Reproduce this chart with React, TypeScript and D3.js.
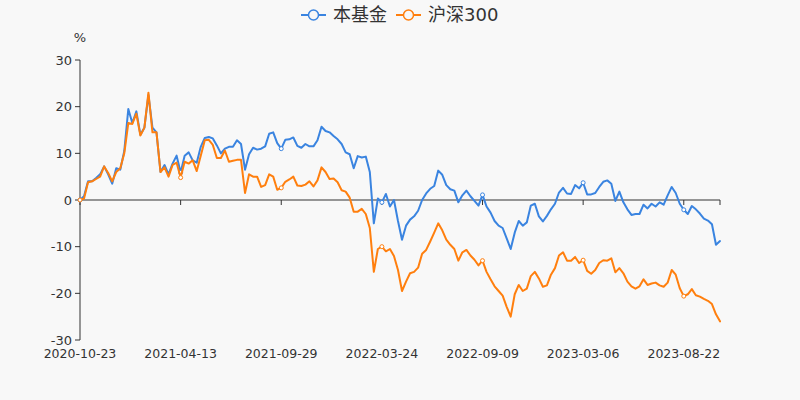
import React from 'react';
import * as d3 from 'd3';

const tickLabels = ['2020-10-23', '2021-04-13', '2021-09-29', '2022-03-24', '2022-09-09', '2023-03-06', '2023-08-22'];
const labelStep = 25;
const yTicks = [-30, -20, -10, 0, 10, 20, 30];
const seriesNames = ['本基金', '沪深300'];
const seriesColors = ['#3a84e0', '#ff7f0e'];

const fundValues = [
  0, 0.8, 4, 4, 4.7, 5.5, 7.2, 5.5, 3.5, 6.8,
  6.5, 10.5, 19.5, 16.5, 19, 14, 15.5, 22.5, 15.5, 14.5,
  6, 7.5, 5.5, 7.8, 9.5, 5.9, 9.5, 10.2, 8.5, 8,
  11.4, 13.3, 13.5, 13.2, 11.7, 10, 11, 11.4, 11.4, 12.8,
  12, 6.5, 9.8, 11.2, 10.8, 11, 11.5, 14.2, 14.5, 12.2,
  11, 12.9, 13, 13.4, 11.6, 11.2, 12, 11.5, 11.5, 12.8,
  15.7, 14.8, 14.5, 13.7, 13, 12, 10.2, 9.8, 6.8, 9.4,
  9.1, 9.3, 6, -5, 0.3, -0.5, 1.3, -1.4, 0, -4.5,
  -8.5, -5.5, -4.2, -3.5, -2.3, 0, 1.4, 2.4, 3, 6.3,
  5.4, 3.2, 2.3, 2, -0.5, 1, 2, 0.8, -0.2, -1.2,
  1.1, -1.4, -2.7, -4.5, -5.5, -6, -8.2, -10.5, -7, -4.5,
  -5.5, -4.8, -1.2, -0.8, -3.5, -4.6, -3.4, -2, -0.8, 1.6,
  2.6, 1.4, 1.3, 3.2, 2.5, 3.7, 1.2, 1.2, 1.5, 2.8,
  3.9, 4.2, 3.5, -0.2, 1.8, -0.5, -2, -3.2, -3, -3,
  -1, -1.8, -0.8, -1.4, -0.5, -1, 1, 2.8, 1.5, -0.8,
  -2.1, -3, -1.3, -2, -2.9, -4, -4.4, -5.2, -9.6, -8.8,
];

const hs300Values = [
  0, 0.3, 3.8, 4, 4.5, 5, 7.2, 5.8, 4, 6,
  6.8, 10, 16.5, 16.3, 18.5, 13.8, 15.5, 23, 14.5, 14.5,
  6, 7, 5, 7.5, 8, 4.8, 8.2, 7.8, 8.5, 6.2,
  9.5, 12.8, 12.9, 11.8, 9, 9, 10.6, 8.2, 8.4, 8.6,
  8.6, 1.5, 5.5, 5, 5, 2.8, 3.2, 5.5, 5, 2.2,
  2.6, 3.9, 4.4, 5, 3.1, 3, 3.3, 4, 2.9, 4.2,
  7, 6, 4.5, 4.6, 3.8, 2.1, 1.8, 0.5, -2.5, -2.5,
  -1.9, -3, -6, -15.4, -10.5, -10, -11, -10.5, -12, -15,
  -19.5, -17.5, -15.7, -15.4, -14.5, -11.5, -10.7, -8.9, -7, -5,
  -6.5, -8.5, -9.6, -10.5, -13, -11.2, -10.7, -11.9, -12.8, -14,
  -13, -15.4, -17, -18.5, -19.5, -20.5, -22.9, -25, -20.2, -18.2,
  -19.5, -19, -16.3, -15.4, -16.8, -18.6, -18.3, -16, -14.6, -11.9,
  -11.2, -13, -13, -12.2, -13.5, -12.9, -15.2, -15.8, -15, -13.5,
  -12.9, -13, -12.5, -15.5, -14.6, -15.7, -17.5, -18.5, -19, -18.5,
  -17, -18.2, -17.9, -17.7, -18.3, -18.6, -17.7, -15, -16, -18.9,
  -20.6, -20.2, -19.1, -20.4, -20.7, -21.2, -21.6, -22.3, -24.5, -26,
];

const W = 800;
const H = 400;
const M = { left: 80, right: 80, top: 60, bottom: 60 };
const FONT = '"DejaVu Sans", "Noto Sans CJK SC", sans-serif';
const BG = '#f8f8f8';

export default function App() {
  const series = [fundValues, hs300Values];
  const n = fundValues.length;
  const x = d3.scaleLinear().domain([0, n - 1]).range([M.left, W - M.right]);
  const y = d3.scaleLinear().domain([-30, 30]).range([H - M.bottom, M.top]);
  const line = d3
    .line<number>()
    .x((_, i) => x(i))
    .y((d) => y(d));

  const labelIdx = tickLabels.map((_, k) => k * labelStep);
  const tickIdx = [...labelIdx, n - 1];

  const legendY = 15;
  const legendItems = [
    { name: seriesNames[0], color: seriesColors[0], x0: 301, tx: 333 },
    { name: seriesNames[1], color: seriesColors[1], x0: 396, tx: 428 },
  ];

  return (
    <div style={{ position: 'fixed', left: 0, top: 0, width: W, height: H }}>
      <svg width={W} height={H} style={{ display: 'block', background: BG }} fontFamily={FONT}>
        <rect x={0} y={0} width={W} height={H} fill={BG} />
        {legendItems.map((it) => (
          <g key={it.name}>
            <line x1={it.x0} x2={it.x0 + 25} y1={legendY} y2={legendY} stroke={it.color} strokeWidth={2} />
            <circle cx={it.x0 + 12.5} cy={legendY} r={5} fill={BG} stroke={it.color} strokeWidth={1.5} />
            <text x={it.tx} y={legendY} dy="0.35em" fontSize={18} fill="#333">
              {it.name}
            </text>
          </g>
        ))}
        <text x={M.left} y={37} dy="0.35em" textAnchor="middle" fontSize={13} fill="#333">
          %
        </text>
        <line x1={M.left} x2={M.left} y1={y(30)} y2={y(-30)} stroke="#333" strokeWidth={1} />
        {yTicks.map((t) => (
          <g key={t}>
            <line x1={M.left - 5} x2={M.left} y1={y(t)} y2={y(t)} stroke="#333" strokeWidth={1} />
            <text x={M.left - 8} y={y(t)} dy="0.35em" textAnchor="end" fontSize={13} fill="#333">
              {t}
            </text>
          </g>
        ))}
        <line x1={M.left} x2={W - M.right} y1={y(0)} y2={y(0)} stroke="#333" strokeWidth={1} />
        {tickIdx.map((i) => (
          <line key={i} x1={x(i)} x2={x(i)} y1={y(0)} y2={y(0) + 5} stroke="#333" strokeWidth={1} />
        ))}
        {tickLabels.map((lab, k) => (
          <text key={lab} x={x(labelIdx[k])} y={354} dy="0.35em" textAnchor="middle" fontSize={12.5} fill="#333">
            {lab}
          </text>
        ))}
        {series.map((vals, s) => (
          <g key={s}>
            <path
              d={line(vals) || ''}
              fill="none"
              stroke={seriesColors[s]}
              strokeWidth={2}
              strokeLinejoin="round"
              strokeLinecap="round"
            />
            {labelIdx.map((i) => (
              <circle key={i} cx={x(i)} cy={y(vals[i])} r={2} fill="#fff" stroke={seriesColors[s]} strokeWidth={1} />
            ))}
          </g>
        ))}
      </svg>
    </div>
  );
}
